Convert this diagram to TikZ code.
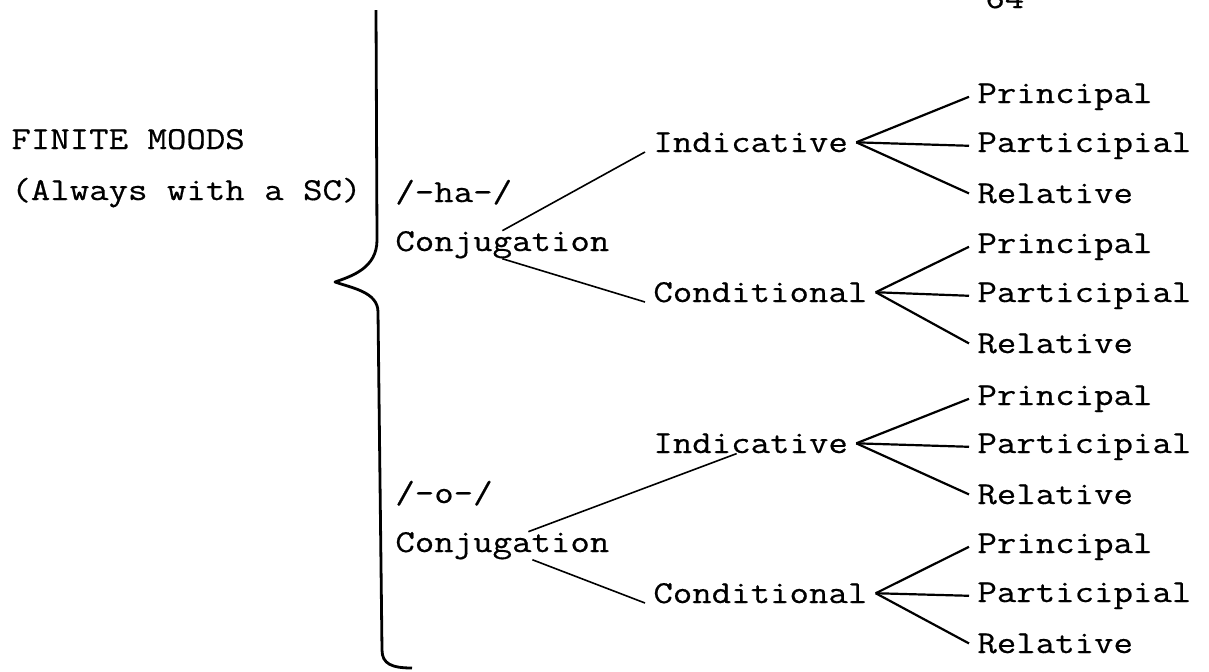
\documentclass[tikz,border=0pt]{standalone}
\usepackage{fontspec}
\setmonofont{Latin Modern Mono}[FakeStretch=1.18, FakeBold=0.5]

\begin{document}
\begin{tikzpicture}[x=0.5pt, y=-0.5pt,
  word/.style={anchor=base west, inner xsep=4pt, inner ysep=0pt,
    font=\ttfamily\fontsize{16}{19}\selectfont},
  branch/.style={line width=0.8pt},
  fan/.style={line width=1.1pt},
  bracestroke/.style={line width=1.4pt, line join=round}]
\clip (0,0) rectangle (1209,671);

% page number, cut at the top edge
\node[word] (pgno) at (977,8) {64};

\node[word] (finite) at (3,149) {FINITE MOODS};
\node[word] (always) at (3,200) {(Always with a SC)};

% the big brace
\draw[bracestroke] (376,10) -- (377,240)
  .. controls (377,268) and (352,276) .. (335,282)
  .. controls (352,288) and (378,292) .. (378,312)
  -- (382,650) .. controls (382,664) and (392,668) .. (412,668);

% /-ha-/ conjugation
\node[word] (ha) at (387,202) {/-ha-/};
\node[word] (conj1) at (387,251) {Conjugation};
\node[word] (ind1) at (645,152) {Indicative};
\node[word] (cond1) at (645,302) {Conditional};

\node[word] (pri1) at (969,103) {Principal};
\node[word] (par1) at (969,152) {Participial};
\node[word] (rel1) at (969,203) {Relative};
\node[word] (pri2) at (969,253) {Principal};
\node[word] (par2) at (969,302) {Participial};
\node[word] (rel2) at (969,353) {Relative};

\draw[branch] (conj1.north) -- (ind1.base west);
\draw[branch] (conj1.south) -- (cond1.base west);

\draw[fan] (ind1.east) -- (pri1.west);
\draw[fan] (ind1.east) -- (par1.west);
\draw[fan] (ind1.east) -- (rel1.west);
\draw[fan] (cond1.east) -- (pri2.west);
\draw[fan] (cond1.east) -- (par2.west);
\draw[fan] (cond1.east) -- (rel2.west);

% /-o-/ conjugation
\node[word] (o) at (387,503) {/-o-/};
\node[word] (conj2) at (387,552) {Conjugation};
\node[word] (ind2) at (645,453) {Indicative};
\node[word] (cond2) at (645,603) {Conditional};

\node[word] (pri3) at (969,405) {Principal};
\node[word] (par3) at (969,453) {Participial};
\node[word] (rel3) at (969,504) {Relative};
\node[word] (pri4) at (969,553) {Principal};
\node[word] (par4) at (969,602) {Participial};
\node[word] (rel4) at (969,653) {Relative};

\draw[branch] ([xshift=13pt]conj2.north) -- ([xshift=-7pt]ind2.south);
\draw[branch] ([xshift=15pt]conj2.south) -- (cond2.base west);

\draw[fan] (ind2.east) -- (pri3.west);
\draw[fan] (ind2.east) -- (par3.west);
\draw[fan] (ind2.east) -- (rel3.west);
\draw[fan] (cond2.east) -- (pri4.west);
\draw[fan] (cond2.east) -- (par4.west);
\draw[fan] (cond2.east) -- (rel4.west);

\end{tikzpicture}
\end{document}
